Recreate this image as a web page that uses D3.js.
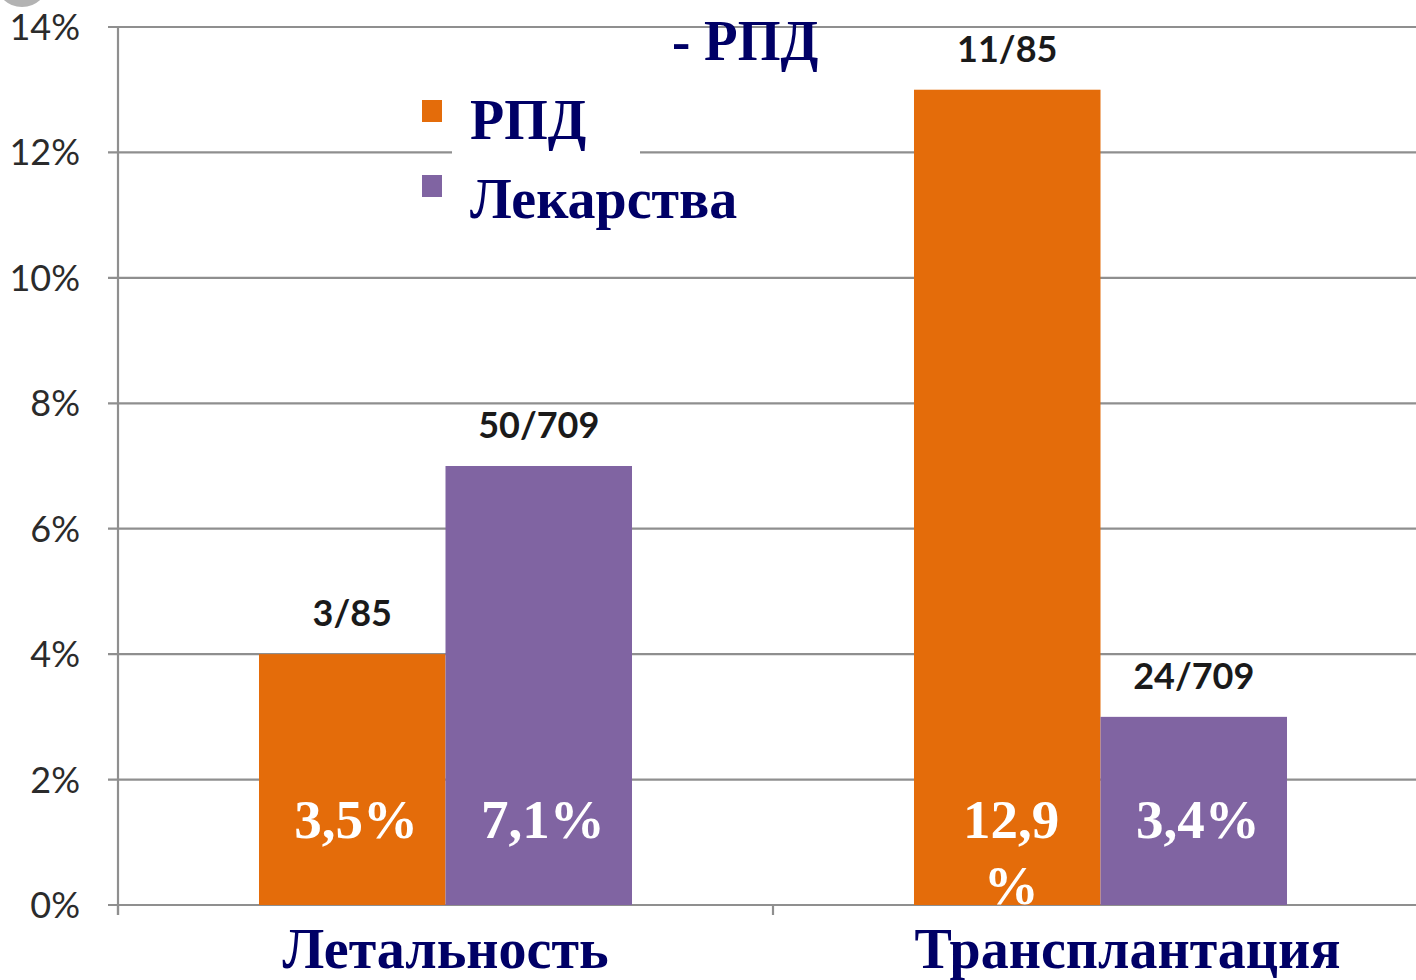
<!DOCTYPE html>
<html>
<head>
<meta charset="utf-8">
<script src="https://cdn.jsdelivr.net/npm/d3@7"></script>
<style>
    body { margin: 0; background: #fff; }
    svg { display: block; }
</style>
</head>
<body>
<svg id="chart"></svg>
<script>
// chart data
const categories = ["Летальность", "Трансплантация"];
const series = ["РПД", "Лекарства"];
const rpdValues = [4, 13];
const drugValues = [7, 3];
const rpdLabels = ["3,5%", "12,9\n%"];
const drugLabels = ["7,1%", "3,4%"];
const rpdCounts = ["3/85", "11/85"];
const drugCounts = ["50/709", "24/709"];
const yTicks = [0, 2, 4, 6, 8, 10, 12, 14];
const titleText = "- РПД";

const width = 1416, height = 980;
const colors = { "РПД": "#E46C0A", "Лекарства": "#8064A2" };
const navy = "#000066";
const serif = "'Liberation Serif', 'Times New Roman', serif";
const sans = "Lato, 'Open Sans', sans-serif";
const squeeze = 0.965; // slide text is a bit narrower than Liberation Serif

let svg = d3.select("#chart").attr("width", width).attr("height", height);

// decoration at the top left corner
svg.append("circle").attr("cx", 22).attr("cy", -20).attr("r", 27).attr("fill", "#b3b3b3");

// scales
let xScale = d3.scaleBand().domain(categories).range([118, 1428]);
let xSub = d3.scaleBand().domain(series).range([0, xScale.bandwidth()]).paddingOuter(0.756);
let yScale = d3.scaleLinear().domain([0, 14]).range([905, 27]);

// grid
svg.append("g").selectAll("line").data(yTicks).join("line")
    .attr("x1", 108).attr("x2", width)
    .attr("y1", d => yScale(d)).attr("y2", d => yScale(d))
    .attr("stroke", "#8f8f8f").attr("stroke-width", 2.2);

// y axis
svg.append("line")
    .attr("x1", 118).attr("x2", 118)
    .attr("y1", yScale(14)).attr("y2", yScale(0) + 10)
    .attr("stroke", "#8f8f8f").attr("stroke-width", 2.2);
svg.append("g").selectAll("text").data(yTicks).join("text")
    .attr("x", 80).attr("y", d => yScale(d))
    .attr("dy", "0.36em")
    .attr("text-anchor", "end")
    .attr("font-family", sans).attr("font-size", 36)
    .attr("fill", "#2b2b2b")
    .text(d => d + "%");

// x axis ticks at band edges
svg.append("g").selectAll("line").data(categories).join("line")
    .attr("x1", d => xScale(d)).attr("x2", d => xScale(d))
    .attr("y1", yScale(0)).attr("y2", yScale(0) + 10)
    .attr("stroke", "#8f8f8f").attr("stroke-width", 2.2);

// bars
let barData = [];
categories.forEach((c, i) => {
    barData.push({cat: c, s: "РПД", v: rpdValues[i], label: rpdLabels[i], count: rpdCounts[i]});
    barData.push({cat: c, s: "Лекарства", v: drugValues[i], label: drugLabels[i], count: drugCounts[i]});
});
let barX = d => xScale(d.cat) + xSub(d.s);

let defs = svg.append("defs");
defs.selectAll("clipPath").data(barData).join("clipPath")
    .attr("id", (d, i) => "clip" + i)
    .append("rect")
    .attr("x", barX).attr("width", xSub.bandwidth())
    .attr("y", d => yScale(d.v)).attr("height", d => yScale(0) - yScale(d.v));

svg.append("g").selectAll("rect").data(barData).join("rect")
    .attr("x", barX)
    .attr("y", d => yScale(d.v))
    .attr("width", xSub.bandwidth())
    .attr("height", d => yScale(0) - yScale(d.v))
    .attr("fill", d => colors[d.s]);

// counts above bars
svg.append("g").selectAll("text").data(barData).join("text")
    .attr("x", d => barX(d) + xSub.bandwidth() / 2)
    .attr("y", d => yScale(d.v) - 28)
    .attr("text-anchor", "middle")
    .attr("font-family", sans).attr("font-weight", "bold").attr("font-size", 36)
    .attr("fill", "#1a1a1a")
    .text(d => d.count);

// percentages inside bars
let inner = svg.append("g").selectAll("text").data(barData).join("text")
    .attr("clip-path", (d, i) => "url(#clip" + i + ")")
    .attr("text-anchor", "middle")
    .attr("font-family", serif).attr("font-weight", "bold").attr("font-size", 55)
    .attr("fill", "#fff");
inner.selectAll("tspan").data(d => d.label.split("\n").map(t => ({t: t, d: d}))).join("tspan")
    .attr("x", e => barX(e.d) + xSub.bandwidth() / 2 + 4)
    .attr("y", (e, j) => yScale(0) - 67 + j * 66)
    .text(e => e.t);

// category labels
svg.append("g").selectAll("text").data(categories).join("text")
    .attr("transform", (d, i) => `translate(${xScale(d) + xScale.bandwidth() / 2 + i * 27},968) scale(${squeeze},1)`)
    .attr("text-anchor", "middle")
    .attr("font-family", serif).attr("font-weight", "bold").attr("font-size", 58)
    .attr("fill", navy)
    .text(d => d);

// title fragment
svg.append("text")
    .attr("transform", `translate(672,60) scale(${squeeze},1)`)
    .attr("font-family", serif).attr("font-weight", "bold").attr("font-size", 57)
    .attr("fill", navy)
    .text(titleText);

// legend
let legend = svg.append("g");
legend.append("rect").attr("x", 452).attr("y", 75).attr("width", 188).attr("height", 80).attr("fill", "#fff");
legend.selectAll("rect.key").data(series).join("rect")
    .attr("class", "key")
    .attr("x", 422).attr("y", (d, i) => 100 + i * 75)
    .attr("width", 20).attr("height", 22)
    .attr("fill", d => colors[d]);
legend.selectAll("text").data(series).join("text")
    .attr("transform", (d, i) => `translate(470,${139 + i * 79}) scale(${squeeze},1)`)
    .attr("font-family", serif).attr("font-weight", "bold").attr("font-size", 58)
    .attr("fill", navy)
    .text(d => d);
</script>
</body>
</html>
